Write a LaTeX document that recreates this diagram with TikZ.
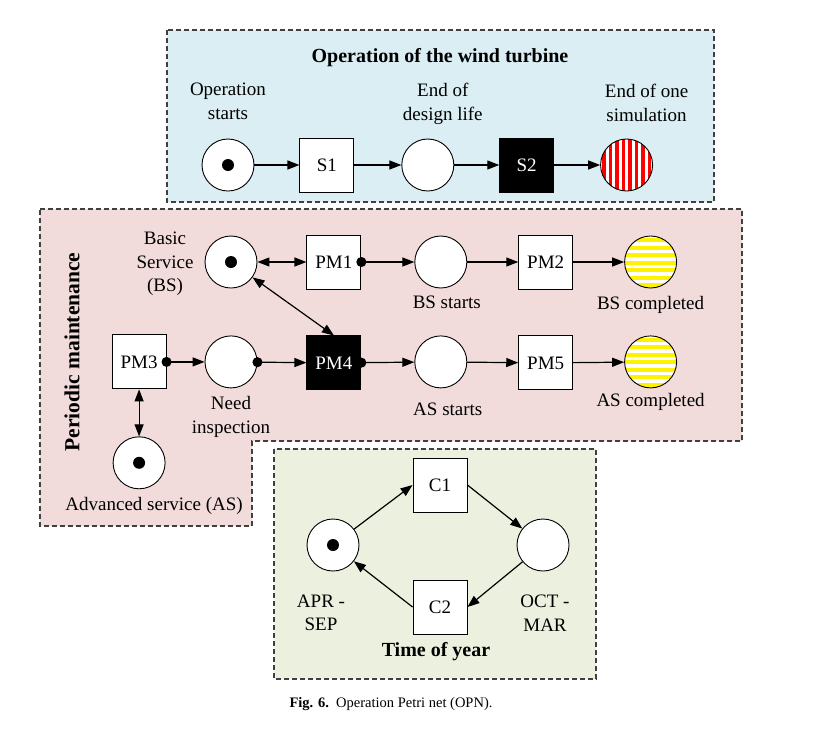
\documentclass[tikz,border=0pt]{standalone}
\usepackage{fontspec}
\setmainfont{Liberation Serif}
\usetikzlibrary{arrows.meta,positioning}
\definecolor{skyfill}{HTML}{DAEEF3}
\definecolor{rosefill}{HTML}{F2DCDB}
\definecolor{sagefill}{HTML}{EBF1DE}
\definecolor{edgegray}{HTML}{404040}

\begin{document}
\begin{tikzpicture}[x=1pt,y=-1pt,
  place/.style={circle,draw,fill=white,line width=0.9pt,minimum size=52pt,inner sep=0pt},
  trans/.style={rectangle,draw,fill=white,line width=0.9pt,minimum size=54pt,
    inner sep=0pt,font=\fontsize{19}{21}\selectfont},
  darktrans/.style={trans,fill=black,text=white},
  token/.style={path picture={\fill[black] (path picture bounding box.center) circle (6pt);}},
  redstripes/.style={path picture={\foreach \k in {0,...,8}
      \fill[red] ([xshift=\k*6.5pt+1.5pt]path picture bounding box.south west) rectangle ++(3.5pt,60pt);}},
  yellowstripes/.style={path picture={\foreach \k in {0,...,7}
      \fill[yellow] ([yshift=\k*7.5pt+1pt]path picture bounding box.south west) rectangle ++(60pt,4pt);}},
  panel/.style={draw=edgegray,line width=1.1pt,dash pattern=on 5pt off 3pt},
  arc/.style={line width=1.2pt,-{Triangle[length=12pt,width=9pt]}},
  dotarc/.style={arc,{Circle[length=10pt]}-{Triangle[length=12pt,width=9pt]},shorten <=-5pt},
  botharc/.style={arc,{Triangle[length=12pt,width=9pt]}-{Triangle[length=12pt,width=9pt]}},
  lbl/.style={align=center,inner sep=0pt,font=\fontsize{19}{23.5}\selectfont},
  heading/.style={inner sep=0pt,font=\fontsize{20}{24}\selectfont\bfseries}
]
\useasboundingbox (0,0) rectangle (822,729);

% panels
\draw[panel,fill=skyfill] (167,30) rectangle (714,202);
\draw[panel,fill=rosefill] (40,209) -- (742,209) -- (742,441) -- (252,441)
  -- (252,526) -- (40,526) -- cycle;
\draw[panel,fill=sagefill] (274,449) rectangle (596,679);

% operation of the wind turbine
\node[heading] (optitle) at (440,58) {Operation of the wind turbine};
\node[place,token] (ops) at (228,165) {};
\node[trans,right=45pt of ops] (s1) {S1};
\node[place,right=47pt of s1] (eol) {};
\node[darktrans,right=45pt of eol] (s2) {S2};
\node[place,redstripes,right=46pt of s2] (eos) {};
\node[lbl,above=19pt of ops] (opslbl) {Operation\\starts};
\node[lbl,above=14pt of eol,xshift=15pt] (eollbl) {End of\\design life};
\node[lbl,above=17pt of eos,xshift=20pt] (eoslbl) {End of one\\simulation};
\draw[arc] (ops) -- (s1);
\draw[arc] (s1) -- (eol);
\draw[arc] (eol) -- (s2);
\draw[arc] (s2) -- (eos);

% periodic maintenance
\node[heading,rotate=90,font=\fontsize{21.5}{24}\selectfont\bfseries] (pmtitle) at (72,352) {Periodic maintenance};
\node[place,token] (bs) at (231,262) {};
\node[trans,right=49pt of bs] (pm1) {PM1};
\node[place,right=53pt of pm1] (bss) {};
\node[trans,right=51pt of bss] (pm2) {PM2};
\node[place,yellowstripes,right=51pt of pm2] (bsc) {};
\node[place,below=47pt of bs] (ni) {};
\node[trans,left=38pt of ni] (pm3) {PM3};
\node[darktrans,below=46pt of pm1] (pm4) {PM4};
\node[place,below=47pt of bss] (ass) {};
\node[trans,below=46pt of pm2] (pm5) {PM5};
\node[place,yellowstripes,below=47pt of bsc] (asc) {};
\node[place,token,below=47pt of pm3] (as) {};
\node[lbl] (bslbl) at (165,264) {Basic\\Service\\(BS)};
\node[lbl,below=7pt of bss,xshift=6pt] (bsslbl) {BS starts};
\node[lbl,below=8pt of bsc] (bsclbl) {BS completed};
\node[lbl,below=8pt of ni] (nilbl) {Need\\inspection};
\node[lbl,below=14pt of ass,xshift=7pt] (asslbl) {AS starts};
\node[lbl,below=5pt of asc] (asclbl) {AS completed};
\node[lbl,below=8pt of as,xshift=15pt] (aslbl) {Advanced service (AS)};
\draw[botharc] (bs) -- (pm1);
\draw[dotarc] (pm1) -- (bss);
\draw[arc] (bss) -- (pm2);
\draw[arc] (pm2) -- (bsc);
\draw[botharc] (bs) -- (pm4.north);
\draw[dotarc] (pm3) -- (ni);
\draw[dotarc] (ni) -- (pm4);
\draw[dotarc] (pm4) -- (ass);
\draw[arc] (ass) -- (pm5);
\draw[arc] (pm5) -- (asc);
\draw[botharc] (pm3) -- (as);

% time of year
\node[place,token] (apr) at (333,545) {};
\node[trans] (c1) at (440,485) {C1};
\node[place] (oct) at (543,545) {};
\node[trans] (c2) at (440,607) {C2};
\node[lbl] (aprlbl) at (321,613) {APR -\\SEP};
\node[lbl] (octlbl) at (545,613) {OCT -\\MAR};
\node[heading] (yeartitle) at (436,652) {Time of year};
\draw[arc] (apr) -- (c1.west);
\draw[arc] (c1.east) -- (oct);
\draw[arc] (oct) -- (c2.east);
\draw[arc] (c2.west) -- (apr);

% caption
\node[inner sep=0pt,font=\fontsize{14.5}{16}\selectfont] (caption) at (391,704)
  {\textbf{Fig. 6.}\enspace Operation Petri net (OPN).};
\end{tikzpicture}
\end{document}
